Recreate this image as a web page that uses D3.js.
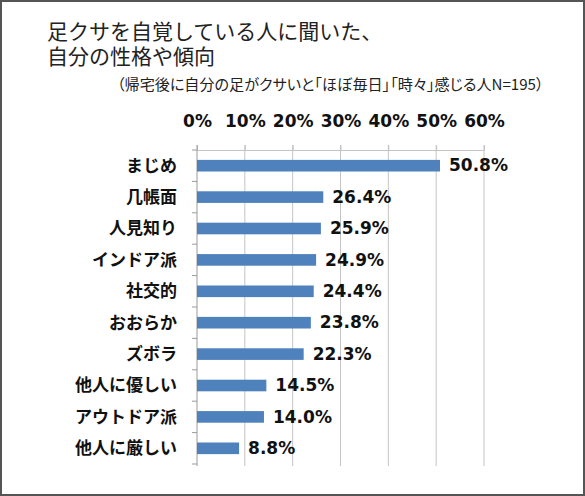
<!DOCTYPE html>
<html>
<head>
<meta charset="utf-8">
<script src="https://cdn.jsdelivr.net/npm/d3@7"></script>
<style>
  html, body { margin: 0; padding: 0; background: #fff; }
  svg { display: block; }
</style>
</head>
<body>
<div id="chart"></div>
<script>
const categories = ["まじめ", "几帳面", "人見知り", "インドア派", "社交的", "おおらか", "ズボラ", "他人に優しい", "アウトドア派", "他人に厳しい"];
const values = [50.8, 26.4, 25.9, 24.9, 24.4, 23.8, 22.3, 14.5, 14.0, 8.8];
const tickValues = [0, 10, 20, 30, 40, 50, 60];
const titleLines = ["足クサを自覚している人に聞いた、", "自分の性格や傾向"];
const subtitle = "（帰宅後に自分の足がクサいと「ほぼ毎日」「時々」感じる人N=195）";

const W = 585, H = 496;
const BAR_COLOR = "#4f81bd";
const GRID = "#c4c4c4";
const JP = "'Noto Sans CJK JP', 'Noto Sans', sans-serif";
const LATIN = "'DejaVu Sans', Verdana, sans-serif";

const svg = d3.select("#chart").append("svg")
  .attr("width", W).attr("height", H);

svg.append("rect")
  .attr("x", 1).attr("y", 1)
  .attr("width", W - 2).attr("height", H - 2)
  .attr("fill", "#fff").attr("stroke", "#555").attr("stroke-width", 2);

// Title (two lines in one text element)
svg.append("text")
  .attr("x", 47).attr("y", 39)
  .attr("font-family", JP).attr("font-size", 21).attr("fill", "#222")
  .selectAll("tspan")
  .data(titleLines)
  .join("tspan")
    .attr("x", 47).attr("dy", (d, i) => i === 0 ? 0 : 25)
    .text(d => d);

svg.append("text")
  .attr("x", 117).attr("y", 90)
  .attr("font-family", JP).attr("font-size", 15.1).attr("fill", "#222")
  .style("font-feature-settings", "'palt'")
  .text(subtitle);

// Scales
const x = d3.scaleLinear().domain([0, 60]).range([197, 484]);
const y = d3.scaleBand().domain(categories).range([150, 464])
  .paddingInner(0.63).paddingOuter(0.315);

// Vertical gridlines
svg.append("g").selectAll("line")
  .data(tickValues.slice(1))
  .join("line")
    .attr("x1", d => x(d)).attr("x2", d => x(d))
    .attr("y1", 145).attr("y2", 466)
    .attr("stroke", GRID).attr("stroke-width", 1);

// Top axis
const xAxis = svg.append("g")
  .attr("transform", "translate(0,150)")
  .call(d3.axisTop(x).tickValues(tickValues).tickFormat(d => d + "%").tickSize(5).tickPadding(18));
xAxis.select(".domain").attr("stroke", GRID);
xAxis.selectAll(".tick line").attr("stroke", GRID);
xAxis.selectAll(".tick text")
  .attr("font-family", LATIN).attr("font-size", 17).attr("font-weight", "bold").attr("fill", "#111");

// Left axis line and category boundary ticks
const step = y.step();
const bounds = categories.map(c => y(c) - step * y.paddingOuter()).concat([y.range()[1]]);
svg.append("line")
  .attr("x1", x(0)).attr("x2", x(0))
  .attr("y1", 145).attr("y2", 466)
  .attr("stroke", "#9a9a9a");
svg.append("g").selectAll("line")
  .data(bounds)
  .join("line")
    .attr("x1", x(0) - 5).attr("x2", x(0))
    .attr("y1", d => d).attr("y2", d => d)
    .attr("stroke", "#9a9a9a");

// Bars
svg.append("g").selectAll("rect")
  .data(values)
  .join("rect")
    .attr("x", x(0))
    .attr("y", (d, i) => y(categories[i]))
    .attr("width", d => x(d) - x(0))
    .attr("height", y.bandwidth())
    .attr("fill", BAR_COLOR);

// Category labels
svg.append("g").selectAll("text")
  .data(categories)
  .join("text")
    .attr("x", 177)
    .attr("y", d => y(d) + y.bandwidth() / 2)
    .attr("dy", "0.35em")
    .attr("text-anchor", "end")
    .attr("font-family", JP).attr("font-size", 17).attr("font-weight", "bold").attr("fill", "#111")
    .text(d => d);

// Value labels
svg.append("g").selectAll("text")
  .data(values)
  .join("text")
    .attr("x", d => x(d) + 9)
    .attr("y", (d, i) => y(categories[i]) + y.bandwidth() / 2)
    .attr("dy", "0.34em")
    .attr("font-family", LATIN).attr("font-size", 17).attr("font-weight", "bold").attr("fill", "#111")
    .text(d => d.toFixed(1) + "%");
</script>
</body>
</html>
